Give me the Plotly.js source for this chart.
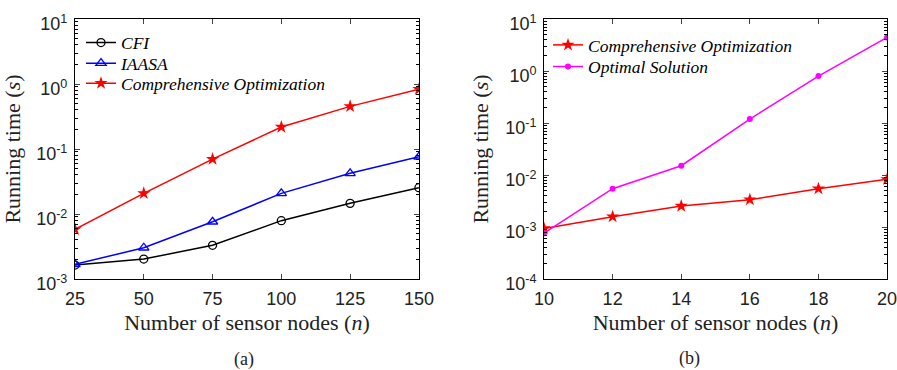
<!DOCTYPE html>
<html><head><meta charset="utf-8">
<script src="https://cdn.plot.ly/plotly-3.0.1.min.js"></script>
<style>body{margin:0;background:#fff}#c{width:897px;height:370px}</style>
</head><body><div id="c"></div>
<script>
const nodesA = [25, 50, 75, 100, 125, 150];
const cfiA = [0.00164, 0.00203, 0.0033, 0.0079, 0.0146, 0.0254];
const iaasaA = [0.00168, 0.00303, 0.0076, 0.0208, 0.0423, 0.076];
const compA = [0.0058, 0.0208, 0.070, 0.218, 0.453, 0.83];

const nodesB = [10, 12, 14, 16, 18, 20];
const compB = [0.00094, 0.00158, 0.00254, 0.00336, 0.00546, 0.00826];
const optB = [0.00076, 0.00546, 0.0151, 0.119, 0.80, 4.43];

const yTickValsA = [1e-3, 1e-2, 1e-1, 1, 10];
const yTickTextA = ['10<sup>-3</sup>', '10<sup>-2</sup>', '10<sup>-1</sup>', '10<sup>0</sup>', '10<sup>1</sup>'];
const yTickValsB = [1e-4, 1e-3, 1e-2, 1e-1, 1, 10];
const yTickTextB = ['10<sup>-4</sup>', '10<sup>-3</sup>', '10<sup>-2</sup>', '10<sup>-1</sup>', '10<sup>0</sup>', '10<sup>1</sup>'];

const traces = [
  {x: nodesA, y: cfiA, name: 'CFI', mode: 'lines+markers', line: {color: '#000', width: 1.5},
   marker: {symbol: 'circle-open', size: 8, color: '#000', line: {width: 1.3}}, xaxis: 'x', yaxis: 'y', legend: 'legend'},
  {x: nodesA, y: iaasaA, name: 'IAASA', mode: 'lines+markers', line: {color: '#0000ff', width: 1.5},
   marker: {symbol: 'triangle-up-open', size: 9, color: '#0000ff', line: {width: 1.3}}, xaxis: 'x', yaxis: 'y', legend: 'legend2'},
  {x: nodesA, y: compA, name: 'Comprehensive Optimization', mode: 'lines+markers', line: {color: '#ff0000', width: 1.5},
   marker: {symbol: 'star', size: 10, color: '#ff0000'}, xaxis: 'x', yaxis: 'y', legend: 'legend3'},
  {x: nodesB, y: compB, name: 'Comprehensive Optimization', mode: 'lines+markers', line: {color: '#ff0000', width: 1.5},
   marker: {symbol: 'star', size: 10, color: '#ff0000'}, xaxis: 'x2', yaxis: 'y2', legend: 'legend4'},
  {x: nodesB, y: optB, name: 'Optimal Solution', mode: 'lines+markers', line: {color: '#ff00ff', width: 1.5},
   marker: {symbol: 'circle', size: 6, color: '#ff00ff'}, xaxis: 'x2', yaxis: 'y2', legend: 'legend5'}
];

const tickFont = {family: 'Liberation Sans, Arial, sans-serif', size: 18, color: '#222'};
const titleFont = {family: 'Liberation Serif, Times New Roman, serif', size: 22, color: '#222'};
const capFont = {family: 'Liberation Serif, Times New Roman, serif', size: 18, color: '#222'};
const legFont = {family: 'Liberation Serif, Times New Roman, serif', size: 17.5, color: '#000', style: 'italic'};

function xax(domain, range, dtick) {
  return {domain: domain, range: range, dtick: dtick, tick0: range[0], ticks: 'inside', ticklen: 5,
    mirror: 'allticks', showline: true, linecolor: '#000', linewidth: 1, showgrid: false, zeroline: false,
    tickfont: tickFont, ticklabelstandoff: 3, ticklabeloverflow: 'allow',
    title: {text: 'Number of sensor nodes (<i>n</i>)', font: titleFont, standoff: 6}};
}
function yax(anchor, range, vals, text) {
  return {domain: [0.2459, 0.9486], anchor: anchor, type: 'log', range: range,
    tickmode: 'array', tickvals: vals, ticktext: text,
    ticks: 'inside', ticklen: 5, mirror: 'allticks', showline: true, linecolor: '#000', linewidth: 1,
    showgrid: false, zeroline: false, tickfont: tickFont, ticklabelstandoff: 3, ticklabelshift: 5,
    ticklabeloverflow: 'allow',
    minor: {ticks: 'inside', ticklen: 3, dtick: 'D1', showgrid: false, tickcolor: '#000'},
    title: {text: 'Running time (<i>s</i>)', font: titleFont, standoff: 10}};
}
function leg(xpx, ypx) {
  return {x: xpx / 897, y: 1 - ypx / 370, xanchor: 'left', yanchor: 'middle', bgcolor: 'rgba(0,0,0,0)',
    font: legFont, itemwidth: 30, borderwidth: 0};
}

const layout = {
  width: 897, height: 370, margin: {l: 0, r: 0, t: 0, b: 0},
  paper_bgcolor: '#fff', plot_bgcolor: '#fff', showlegend: true,
  xaxis: Object.assign(xax([0.0836, 0.467], [25, 150], 25), {anchor: 'y'}),
  yaxis: yax('x', [-3, 1], yTickValsA, yTickTextA),
  xaxis2: Object.assign(xax([0.6065, 0.9889], [10, 20], 2), {anchor: 'y2'}),
  yaxis2: yax('x2', [-4, 1], yTickValsB, yTickTextB),
  legend: leg(81, 42.7),
  legend2: leg(81, 63.3),
  legend3: leg(81, 83.3),
  legend4: leg(548, 45),
  legend5: leg(548, 66.7),
  annotations: [
    {text: '(a)', x: 232 / 897, y: 1 - 359 / 370, xref: 'paper', yref: 'paper', showarrow: false, font: capFont, yanchor: 'middle'},
    {text: '(b)', x: 702 / 897, y: 1 - 358 / 370, xref: 'paper', yref: 'paper', showarrow: false, font: capFont, yanchor: 'middle'}
  ]
};

Plotly.newPlot('c', traces, layout, {displayModeBar: false, staticPlot: true});
</script></body></html>
